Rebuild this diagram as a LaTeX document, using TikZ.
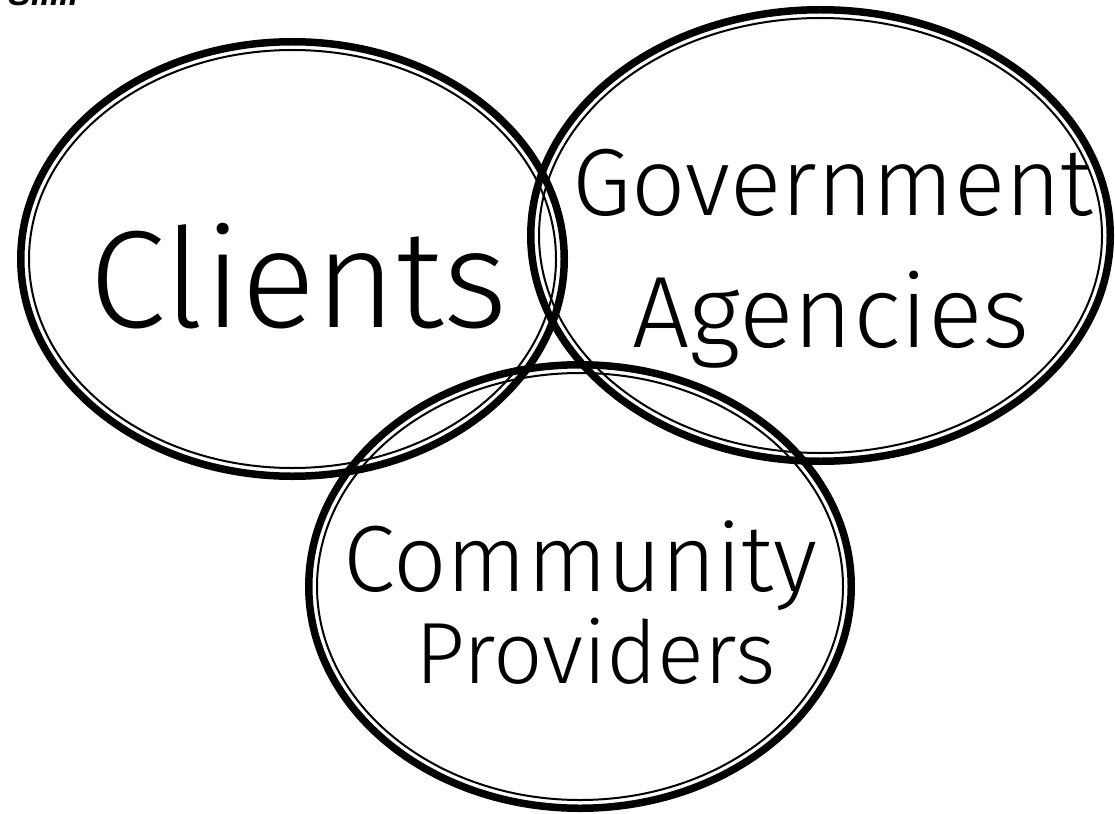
\documentclass[tikz,border=0pt]{standalone}
\usepackage{fontspec}
\usepackage{graphicx}
\newfontfamily\lbl{Fira Sans Light}
\newfontfamily\hdr{Liberation Sans}
\tikzset{
  thickring/.style={draw=black, line width=7.5pt},
  thinring/.style={draw=black, line width=2pt},
  word/.style={anchor=base, inner sep=0pt, font=\lbl}
}
\begin{document}
\begin{tikzpicture}[x=1pt,y=-1pt]
\useasboundingbox (0,0) rectangle (1115,813);
% Clients
\draw[thickring] (292.5,259) ellipse [x radius=271.75, y radius=217.25];
\draw[thinring]  (292.5,259) ellipse [x radius=263.5, y radius=209];
% Government Agencies
\draw[thickring] (820.5,235.5) ellipse [x radius=289.75, y radius=225.75];
\draw[thinring]  (820.5,235.5) ellipse [x radius=281.5, y radius=217.5];
% Community Providers
\draw[thickring] (580,586.5) ellipse [x radius=271.25, y radius=221.75];
\draw[thinring]  (580,586.5) ellipse [x radius=263, y radius=213.5];
% labels
\node[word] (clients) at (299,327) {\resizebox{418pt}{!}{Clients}};
\node[word] (gov) at (833,215) {\resizebox{520pt}{!}{Government}};
\node[word] (agen) at (831,347) {\resizebox{397pt}{!}{Agencies}};
\node[word] (comm) at (580.5,591) {\resizebox{474pt}{!}{Community}};
\node[word] (prov) at (595.5,683) {\resizebox{360pt}{!}{Providers}};
% top-left cut text
\node[anchor=base west, inner sep=0pt, font=\hdr\bfseries\itshape\fontsize{34}{40}\selectfont] (so) at (8,6) {S.....};
\end{tikzpicture}
\end{document}
